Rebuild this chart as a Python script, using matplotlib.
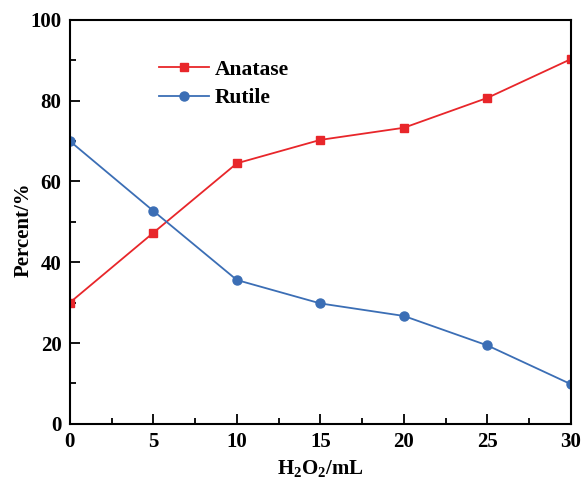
import matplotlib
matplotlib.use('Agg')
import matplotlib.pyplot as plt
from matplotlib.ticker import MultipleLocator

plt.rcParams['font.family'] = 'Liberation Serif'
plt.rcParams['font.weight'] = 'bold'
plt.rcParams['mathtext.fontset'] = 'custom'
plt.rcParams['mathtext.rm'] = 'Liberation Serif:bold'
plt.rcParams['mathtext.bf'] = 'Liberation Serif:bold'

# 데이터
h2o2 = [0, 5, 10, 15, 20, 25, 30]
anatase = [30.0, 47.3, 64.5, 70.3, 73.3, 80.7, 90.3]
rutile = [70.0, 52.7, 35.6, 29.8, 26.7, 19.4, 9.8]

fig = plt.figure(figsize=(5.82, 4.86), dpi=100)
ax = fig.add_axes([0.120, 0.128, 0.861, 0.831])

ax.plot(h2o2, anatase, color='#e8262a', marker='s', markersize=6, linewidth=1.3, label='Anatase')
ax.plot(h2o2, rutile, color='#3b6eb5', marker='o', markersize=6.5, linewidth=1.3, label='Rutile')

ax.set_xlim(0, 30)
ax.set_ylim(0, 100)
ax.xaxis.set_major_locator(MultipleLocator(5))
ax.xaxis.set_minor_locator(MultipleLocator(2.5))
ax.yaxis.set_major_locator(MultipleLocator(20))
ax.yaxis.set_minor_locator(MultipleLocator(10))
ax.tick_params(which='both', direction='in', width=1.3, labelsize=15, top=False, right=False)
ax.tick_params(which='major', length=7, pad=6)
ax.tick_params(which='minor', length=4)
for s in ax.spines.values():
    s.set_linewidth(1.5)

ax.set_xlabel(r'$\mathrm{H_2O_2/mL}$', fontsize=15, labelpad=4)
ax.set_ylabel('Percent/%', fontsize=15, fontweight='bold', labelpad=-2)
ax.yaxis.label.set_y(0.48)

ax.legend(loc='upper left', bbox_to_anchor=(0.166, 0.918), frameon=False, fontsize=15.5,
          handlelength=2.3, handletextpad=0.25, labelspacing=0.4, borderaxespad=0, borderpad=0.3)

fig.savefig('out.png', dpi=100)
